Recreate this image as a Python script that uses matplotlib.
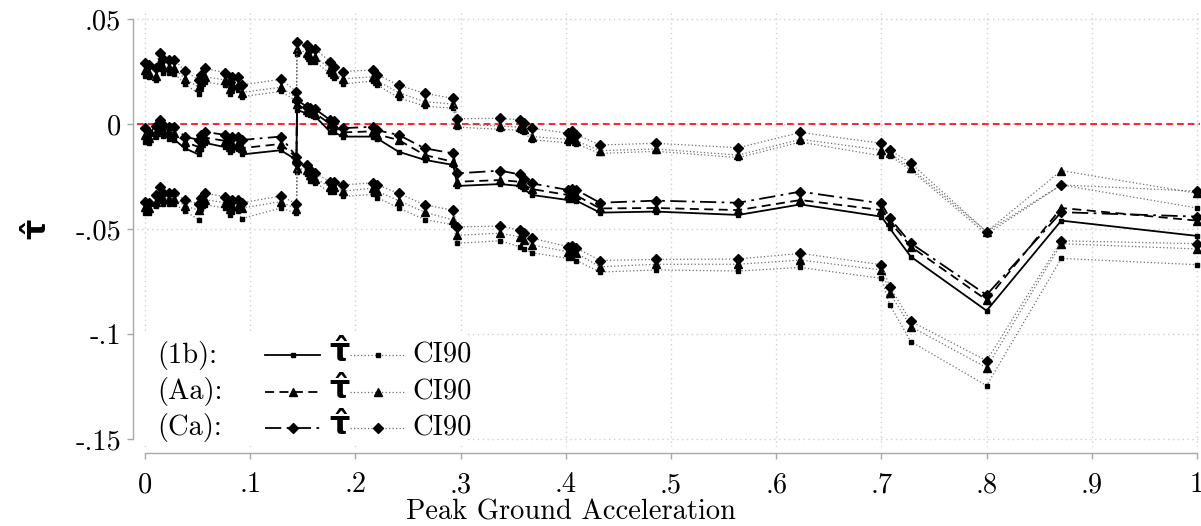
import matplotlib
matplotlib.use("Agg")
import matplotlib.pyplot as plt
from matplotlib.lines import Line2D

# Peak ground acceleration thresholds
pga = [0.000, 0.004, 0.010, 0.014, 0.017, 0.023, 0.028, 0.038, 0.051, 0.053,
       0.057, 0.076, 0.081, 0.083, 0.088, 0.092, 0.129, 0.144, 0.1445, 0.154,
       0.157, 0.162, 0.176, 0.180, 0.188, 0.217, 0.221, 0.241, 0.266, 0.293,
       0.297, 0.3375, 0.356, 0.360, 0.368, 0.402, 0.406, 0.410, 0.4325, 0.4855,
       0.564, 0.623, 0.700, 0.708, 0.728, 0.800, 0.871, 1.000]

# (1b) estimate and 90% confidence bounds
est_1b = [-0.0084, -0.009, -0.006, -0.004, -0.0055, -0.007, -0.0075, -0.0116, -0.0145, -0.012,
          -0.009, -0.011, -0.0132, -0.0125, -0.012, -0.0145, -0.0125, -0.0171, 0.0067, 0.005,
          0.0045, 0.0035, -0.0037, -0.004, -0.006, -0.006, -0.007, -0.0132, -0.0171, -0.0195,
          -0.0295, -0.0286, -0.0295, -0.031, -0.0338, -0.0362, -0.036, -0.0365, -0.0422, -0.0417,
          -0.0433, -0.0383, -0.0441, -0.0497, -0.0632, -0.0889, -0.046, -0.0533]
hi_1b = [0.023, 0.0225, 0.021, 0.0275, 0.0245, 0.0245, 0.024, 0.019, 0.0145, 0.0175,
         0.020, 0.0185, 0.0145, 0.0165, 0.016, 0.013, 0.0155, 0.011, 0.0335, 0.032,
         0.0295, 0.0295, 0.024, 0.022, 0.019, 0.0205, 0.0185, 0.0125, 0.0085, 0.0075,
         -0.0015, -0.0025, -0.003, -0.004, -0.0075, -0.009, -0.008, -0.0095, -0.014, -0.013,
         -0.016, -0.0086, -0.0152, -0.015, -0.022, -0.0525, -0.029, -0.040]
lo_1b = [-0.0425, -0.0425, -0.039, -0.0355, -0.038, -0.038, -0.038, -0.0415, -0.0455, -0.0405,
         -0.0385, -0.040, -0.0435, -0.042, -0.0415, -0.045, -0.040, -0.0425, -0.023, -0.024,
         -0.027, -0.028, -0.0325, -0.0325, -0.0345, -0.0335, -0.035, -0.040, -0.0455, -0.048,
         -0.0568, -0.0556, -0.0584, -0.0595, -0.0613, -0.064, -0.064, -0.065, -0.0705, -0.0695,
         -0.070, -0.0683, -0.0735, -0.0862, -0.1036, -0.1246, -0.064, -0.067]

# (Aa) estimate and 90% confidence bounds
est_aa = [-0.005, -0.0065, -0.004, -0.0015, -0.003, -0.004, -0.0045, -0.0085, -0.011, -0.009,
          -0.0065, -0.008, -0.011, -0.0095, -0.009, -0.0115, -0.0095, -0.016, 0.0095, 0.0065,
          0.006, 0.005, 0.0, -0.0005, -0.004, -0.0035, -0.005, -0.0076, -0.0148, -0.018,
          -0.0275, -0.0267, -0.0275, -0.029, -0.031, -0.0338, -0.0335, -0.034, -0.0402, -0.040,
          -0.041, -0.0362, -0.041, -0.0465, -0.0584, -0.0838, -0.040, -0.046]
hi_aa = [0.0255, 0.0245, 0.023, 0.030, 0.027, 0.027, 0.0265, 0.0215, 0.0175, 0.020,
         0.0225, 0.021, 0.0165, 0.019, 0.0185, 0.015, 0.0175, 0.0125, 0.0355, 0.034,
         0.032, 0.032, 0.0262, 0.024, 0.0215, 0.0225, 0.0205, 0.015, 0.0106, 0.0095,
         0.0, -0.001, -0.0015, -0.0025, -0.006, -0.0073, -0.0065, -0.008, -0.0127, -0.0119,
         -0.0148, -0.0073, -0.0124, -0.0138, -0.021, -0.0513, -0.0222, -0.033]
lo_aa = [-0.0395, -0.040, -0.037, -0.033, -0.0355, -0.0355, -0.0355, -0.039, -0.041, -0.038,
         -0.036, -0.0375, -0.0405, -0.039, -0.039, -0.040, -0.037, -0.0405, -0.021, -0.022,
         -0.0245, -0.026, -0.030, -0.030, -0.032, -0.0305, -0.032, -0.0365, -0.042, -0.0457,
         -0.053, -0.052, -0.0537, -0.055, -0.0576, -0.0608, -0.0605, -0.0615, -0.068, -0.0668,
         -0.0668, -0.0648, -0.0695, -0.0806, -0.0965, -0.116, -0.057, -0.0595]

# (Ca) estimate and 90% confidence bounds
est_ca = [-0.002, -0.0045, -0.001, 0.0019, -0.0005, -0.0013, -0.0015, -0.006, -0.0076, -0.005,
          -0.0037, -0.0052, -0.0076, -0.006, -0.006, -0.0076, -0.006, -0.0156, 0.0114, 0.0082,
          0.0075, 0.007, 0.0019, 0.0015, -0.002, -0.0013, -0.003, -0.0052, -0.0116, -0.014,
          -0.0235, -0.0222, -0.024, -0.026, -0.0283, -0.0314, -0.031, -0.0314, -0.0375, -0.0365,
          -0.0375, -0.0322, -0.0378, -0.0449, -0.0568, -0.0814, -0.042, -0.0441]
hi_ca = [0.0289, 0.028, 0.0265, 0.034, 0.031, 0.0305, 0.0305, 0.0252, 0.021, 0.0235,
         0.0265, 0.0244, 0.020, 0.0222, 0.0222, 0.0186, 0.0213, 0.0154, 0.0392, 0.0376,
         0.0356, 0.0356, 0.0297, 0.0273, 0.025, 0.0257, 0.0235, 0.0185, 0.0146, 0.0122,
         0.0025, 0.0027, 0.002, 0.0005, -0.002, -0.0044, -0.0035, -0.005, -0.010, -0.0092,
         -0.0113, -0.004, -0.0092, -0.0124, -0.0187, -0.0513, -0.029, -0.032]
lo_ca = [-0.037, -0.0375, -0.034, -0.0302, -0.033, -0.033, -0.033, -0.0362, -0.038, -0.035,
         -0.033, -0.0346, -0.0378, -0.036, -0.0362, -0.0375, -0.0343, -0.038, -0.0187, -0.0195,
         -0.022, -0.0235, -0.0275, -0.0278, -0.029, -0.028, -0.029, -0.033, -0.0386, -0.041,
         -0.049, -0.0486, -0.0505, -0.052, -0.0544, -0.0584, -0.058, -0.059, -0.065, -0.0645,
         -0.0643, -0.0616, -0.067, -0.0775, -0.094, -0.1127, -0.0556, -0.057]

xticks = [0, 0.1, 0.2, 0.3, 0.4, 0.5, 0.6, 0.7, 0.8, 0.9, 1.0]
xticklabels = ["0", ".1", ".2", ".3", ".4", ".5", ".6", ".7", ".8", ".9", "1"]
yticks = [-0.15, -0.1, -0.05, 0, 0.05]
yticklabels = ["-.15", "-.1", "-.05", "0", ".05"]

W, H = 1201, 526
SERIF = "cmr10"
FS = 20.5
SANS_BOLD = dict(family="DejaVu Sans", weight="bold")
TAU_HAT = "\u03c4\u0302"

fig = plt.figure(figsize=(W / 100, H / 100), dpi=100)
ax = fig.add_axes([137 / W, 1 - 447 / H, (1200 - 137) / W, (447 - 13) / H])
ax.set_xlim((137 - 145) / 1052, (1200 - 145) / 1052)
ax.set_ylim((124 - 447) / 2100, (124 - 13) / 2100)

# grid and reference line
for xv in xticks:
    ax.axvline(xv, color="#cfcfcf", lw=1.0, ls=(0, (1, 2.5)), zorder=0)
for yv in yticks:
    ax.axhline(yv, color="#cfcfcf", lw=1.0, ls=(0, (1, 2.5)), zorder=0)
ax.axhline(0, color="red", lw=1.2, ls=(0, (4, 2.5)), zorder=1)

ci_style = dict(color="#6e6e6e", lw=0.9, ls=(0, (1, 1.8)), mfc="black", mec="black", zorder=2)
specs = [
    (est_1b, hi_1b, lo_1b, "s", 2.6, "-"),
    (est_aa, hi_aa, lo_aa, "^", 6.0, (0, (5, 3))),
    (est_ca, hi_ca, lo_ca, "D", 5.5, (0, (9, 3, 1.5, 3))),
]
for est, hi, lo, mk, ms, ls in specs:
    ax.plot(pga, hi, marker=mk, ms=ms, **ci_style)
    ax.plot(pga, lo, marker=mk, ms=ms, **ci_style)
for est, hi, lo, mk, ms, ls in specs:
    ax.plot(pga, est, color="black", lw=1.3, ls=ls, marker=mk, ms=ms,
            mfc="black", mec="black", zorder=3)

# axes decoration
for side in ("top", "right"):
    ax.spines[side].set_visible(False)
ax.spines["left"].set_position(("outward", 3))
ax.spines["bottom"].set_position(("outward", 4.3))
ax.spines["left"].set_bounds(-0.15, 0.05)
ax.spines["bottom"].set_bounds(0, 1)
for side in ("left", "bottom"):
    ax.spines[side].set_color("#a8a8a8")
    ax.spines[side].set_linewidth(1.0)
ax.set_xticks(xticks)
ax.set_xticklabels(xticklabels, family=SERIF, fontsize=FS)
ax.set_yticks(yticks)
ax.set_yticklabels(yticklabels, family=SERIF, fontsize=FS)
ax.tick_params(axis="both", colors="#a8a8a8", labelcolor="black", length=4.5, width=1.0)
ax.tick_params(axis="x", pad=9)
ax.tick_params(axis="y", pad=4)

fig.text(571 / W, 1 - 520 / H, "Peak Ground Acceleration", family=SERIF,
         fontsize=FS, ha="center", va="baseline")
fig.text(37 / W, 1 - 229 / H, TAU_HAT, fontsize=23, rotation=90,
         ha="center", va="center", **SANS_BOLD)

# legend
ax.add_patch(plt.Rectangle((137 / W, 1 - 446 / H), (468 - 137) / W, (446 - 332) / H,
                           transform=fig.transFigure, facecolor="white",
                           edgecolor="none", zorder=4))
rows = [("(1b):", "s", 2.6, "-", 355),
        ("(Aa):", "^", 6.0, (0, (5, 3)), 392),
        ("(Ca):", "D", 5.5, (0, (9, 3, 1.5, 3)), 428)]
for label, mk, ms, ls, py in rows:
    fy = 1 - py / H
    fig.text(157 / W, fy, label, family=SERIF, fontsize=FS, ha="left", va="center", zorder=5)
    fig.add_artist(Line2D([265 / W, 320 / W], [fy, fy], color="black", lw=1.3, ls=ls,
                          transform=fig.transFigure, zorder=5))
    fig.add_artist(Line2D([292.5 / W], [fy], marker=mk, ms=ms, color="black",
                          transform=fig.transFigure, zorder=5))
    fig.text(329 / W, fy + 0.004, TAU_HAT, fontsize=23, ha="left", va="center", zorder=5,
             **SANS_BOLD)
    fig.add_artist(Line2D([350 / W, 405 / W], [fy, fy], color="#6e6e6e", lw=0.9,
                          ls=(0, (1, 1.8)), transform=fig.transFigure, zorder=5))
    fig.add_artist(Line2D([377.5 / W], [fy], marker=mk, ms=ms, color="black",
                          transform=fig.transFigure, zorder=5))
    fig.text(412 / W, fy, "CI90", family=SERIF, fontsize=FS, ha="left", va="center", zorder=5)

fig.savefig("out.png", dpi=100)
